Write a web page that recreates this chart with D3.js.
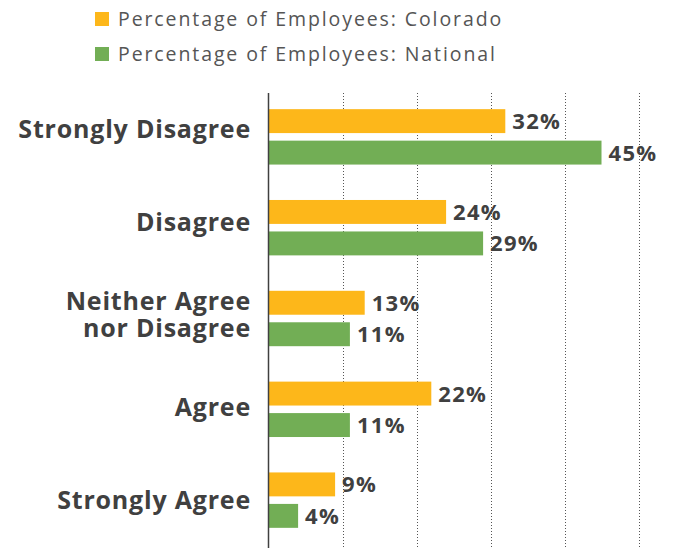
<!DOCTYPE html>
<html>
<head>
<meta charset="utf-8">
<script src="https://cdn.jsdelivr.net/npm/d3@7"></script>
<style>
  html, body { margin: 0; padding: 0; background: #fff; }
  svg { display: block; font-family: "Open Sans", Lato, sans-serif; }
</style>
</head>
<body>
<svg id="chart" width="673" height="548"></svg>
<script>
// Survey responses
const categories = ["Strongly Disagree", "Disagree", "Neither Agree nor Disagree", "Agree", "Strongly Agree"];
const categoryLines = [["Strongly Disagree"], ["Disagree"], ["Neither Agree", "nor Disagree"], ["Agree"], ["Strongly Agree"]];
const seriesNames = ["Percentage of Employees: Colorado", "Percentage of Employees: National"];
const colorado = [32, 24, 13, 22, 9];
const national = [45, 29, 11, 11, 4];
const tickValues = [10, 20, 30, 40, 50];
const colors = ["#FDB71A", "#72AE55"];

const svg = d3.select("#chart");

const x = d3.scaleLinear().domain([0, 50]).range([268.5, 638.5]);
const y = d3.scaleBand().domain(categories).range([91, 546]).paddingInner(0.39).paddingOuter(0.2);
const ySub = d3.scaleBand().domain(seriesNames).range([0, y.bandwidth()]).paddingInner(0.24);
// Category label positions
const yLabel = d3.scalePoint().domain(categories).range([129, 500]);

// Dotted gridlines
svg.append("g").selectAll("line").data(tickValues).join("line")
  .attr("x1", d => Math.round(x(d)) + 0.5).attr("x2", d => Math.round(x(d)) + 0.5)
  .attr("y1", 93).attr("y2", 548)
  .attr("stroke", "#555").attr("stroke-width", 1).attr("stroke-dasharray", "1,2");

const rows = categories.map((c, i) => ({ c, vals: [colorado[i], national[i]] }));

const groups = svg.append("g").selectAll("g").data(rows).join("g")
  .attr("transform", d => `translate(0,${y(d.c)})`);

groups.selectAll("rect").data(d => d.vals.map((v, j) => ({ v, s: seriesNames[j], j }))).join("rect")
  .attr("x", x(0)).attr("y", d => ySub(d.s))
  .attr("width", d => x(d.v) - x(0)).attr("height", ySub.bandwidth())
  .attr("fill", d => colors[d.j]);

groups.selectAll("text.val").data(d => d.vals.map((v, j) => ({ v, s: seriesNames[j] }))).join("text")
  .attr("class", "val")
  .attr("x", d => x(d.v) + 7).attr("y", d => ySub(d.s) + ySub.bandwidth() / 2)
  .attr("dy", "0.36em")
  .attr("font-size", 22).attr("font-weight", 700).attr("letter-spacing", 1.3).attr("fill", "#404040")
  .text(d => d.v + "%");

// Baseline axis
svg.append("line").attr("x1", 268.5).attr("x2", 268.5).attr("y1", 93).attr("y2", 548)
  .attr("stroke", "#404040").attr("stroke-width", 1.5);

// Category labels, one text element per line
const labelLines = categories.flatMap((c, i) => {
  const lines = categoryLines[i];
  return lines.map((t, k) => ({ t, c, off: (k - (lines.length - 1) / 2) * 26.7 }));
});
svg.append("g").selectAll("text").data(labelLines).join("text")
  .attr("text-anchor", "end")
  .attr("x", 251)
  .attr("y", d => yLabel(d.c) + d.off)
  .attr("dy", "0.36em")
  .attr("font-size", 25).attr("font-weight", 700).attr("letter-spacing", 0.8).attr("fill", "#404040")
  .text(d => d.t);

// Legend
const leg = svg.append("g").selectAll("g").data(seriesNames).join("g")
  .attr("transform", (d, i) => `translate(95,${12 + i * 35})`);
leg.append("rect").attr("width", 14).attr("height", 14).attr("fill", (d, i) => colors[i]);
leg.append("text").attr("x", 23).attr("y", 7).attr("dy", "0.36em")
  .attr("font-size", 19.5).attr("letter-spacing", 1.9).attr("fill", "#555").text(d => d);
</script>
</body>
</html>
